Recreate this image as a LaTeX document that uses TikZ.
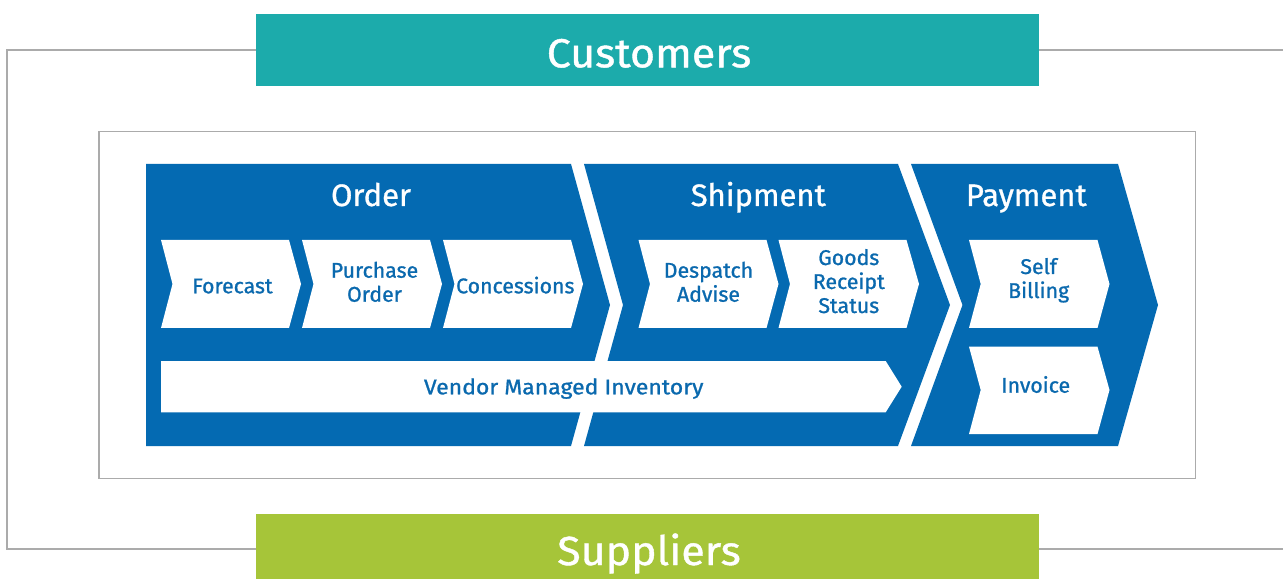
\documentclass[tikz,border=0pt]{standalone}
\usepackage{fontspec}
\setmainfont{Fira Sans}
\newfontfamily\medfont[FakeBold=1]{Fira Sans}
\newfontfamily\widefont[FakeBold=1,FakeStretch=1.06]{Fira Sans}
\newfontfamily\vmifont[FakeBold=1,FakeStretch=1.08]{Fira Sans}
\definecolor{flowblue}{HTML}{046AB2}
\definecolor{lblblue}{HTML}{0A69AE}
\definecolor{custteal}{HTML}{1CABAB}
\definecolor{suppgreen}{HTML}{A6C539}
\definecolor{framegray}{HTML}{ABABAB}
\newcommand{\mlines}[1]{\begin{tabular}[t]{@{}c@{}}#1\end{tabular}}
\tikzset{
  bigchev/.style={fill=flowblue, draw=none},
  smallchev/.style={fill=white, draw=none},
  frameline/.style={draw=framegray, line width=1.3bp},
  lbl/.style={text=lblblue, anchor=base, inner sep=0pt, font=\medfont\fontsize{21.3bp}{24bp}\selectfont},
  widelbl/.style={lbl, font=\vmifont\fontsize{21.3bp}{24bp}\selectfont},
  ttl/.style={text=white, anchor=base, inner sep=0pt, font=\medfont\fontsize{31bp}{36bp}\selectfont},
  bigttl/.style={text=white, anchor=base, inner sep=0pt, font=\widefont\fontsize{40.5bp}{46bp}\selectfont},
}
\begin{document}
\begin{tikzpicture}[x=1bp, y=-1bp]
\useasboundingbox (0,0) rectangle (1283,579);
\fill[white] (0,0) rectangle (1283,579);
% frames
\draw[frameline] (1290,50) -- (7,50) -- (7,549) -- (1290,549);
\draw[frameline] (99,131.7) rectangle (1195.7,478.3);
% customers / suppliers bars
\fill[custteal] (256,14) rectangle (1039,86);
\fill[suppgreen] (256,514) rectangle (1039,585);
\node[bigttl] (cust) at (649,67.3) {Customers};
\node[bigttl] (supp) at (649,565) {Suppliers};
% big chevrons
\path[bigchev] (146,164) -- (571,164) -- (610,305) -- (571,446) -- (146,446) -- cycle;
\path[bigchev] (584,164) -- (898,164) -- (950,305) -- (898,446) -- (584,446) -- (623,305) -- cycle;
\path[bigchev] (911,164) -- (1118,164) -- (1158,305) -- (1118,446) -- (911,446) -- (962.5,305) -- cycle;
\node[ttl] (order) at (371,206) {Order};
\node[ttl] (ship) at (758.3,206) {Shipment};
\node[ttl] (pay) at (1026.3,206) {Payment};
% small chevrons
\path[smallchev] (161,240) -- (289,240) -- (301,284) -- (289,328) -- (161,328) -- (172.5,284) -- cycle;
\path[smallchev] (302,240) -- (430,240) -- (442,284) -- (430,328) -- (302,328) -- (313.5,284) -- cycle;
\path[smallchev] (443,240) -- (571,240) -- (583,284) -- (571,328) -- (443,328) -- (454.5,284) -- cycle;
\path[smallchev] (638.5,240) -- (766.5,240) -- (778.5,284) -- (766.5,328) -- (638.5,328) -- (650,284) -- cycle;
\path[smallchev] (778.5,240) -- (906.5,240) -- (919,284) -- (906.5,328) -- (778.5,328) -- (790,284) -- cycle;
\path[smallchev] (969,240) -- (1097.5,240) -- (1109.5,284) -- (1097.5,328) -- (969,328) -- (980.7,284) -- cycle;
\path[smallchev] (969,346.7) -- (1097.5,346.7) -- (1109.5,390) -- (1097.5,434) -- (969,434) -- (980.7,390) -- cycle;
\path[smallchev] (161,361) -- (885.7,361) -- (901.7,386.7) -- (885.7,412.3) -- (161,412.3) -- cycle;
% labels
\node[lbl] (fc) at (232.5,293.3) {Forecast};
\node[lbl] (po) at (374.5,277.7) {\mlines{Purchase\\Order}};
\node[lbl] (con) at (515.3,293.3) {Concessions};
\node[lbl] (da) at (708.5,277.7) {\mlines{Despatch\\Advise}};
\node[lbl] (grs) at (848.8,265) {\mlines{Goods\\Receipt\\Status}};
\node[lbl] (sb) at (1038.7,274) {\mlines{Self\\Billing}};
\node[lbl] (inv) at (1035.7,392.7) {Invoice};
\node[widelbl] (vmi) at (563.7,394.3) {Vendor Managed Inventory};
\end{tikzpicture}
\end{document}
